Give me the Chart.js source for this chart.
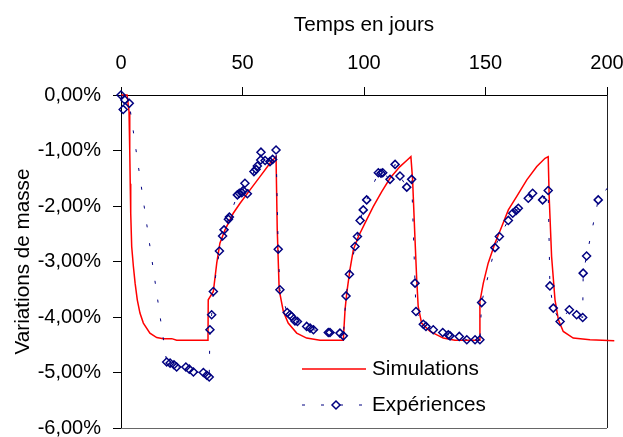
<!DOCTYPE html>
<html>
<head>
<meta charset="utf-8">
<script src="https://cdn.jsdelivr.net/npm/chart.js@4/dist/chart.umd.min.js"></script>
<style>
html,body{margin:0;padding:0;background:#fff;}
#wrap{width:623px;height:437px;}
</style>
</head>
<body>
<div id="wrap"><canvas id="c" width="623" height="437"></canvas></div>
<script>
// ---- Data ----
const xTitle = "Temps en jours";
const yTitle = "Variations de masse";
const seriesNames = ["Simulations", "Expériences"];

const simDays = [0, 2.5, 3.3, 3.6, 3.8, 4.0, 4.4, 5.1, 5.8, 6.7, 7.8, 9.2, 11.9, 14.7, 17.4, 20.9, 22.9, 35.8,
  35.9, 38.0, 39.4, 40.7, 42.8, 46.2, 49.0, 53.1, 57.2, 61.3, 63.8,
  64.3, 65.1, 66.8, 68.8, 72.3, 76.4, 81.9, 91.5,
  91.8, 92.2, 92.9, 94.2, 95.6, 97.7, 100.4, 103.8, 107.3, 110.7, 114.8, 117.8, 119.3,
  120.0, 121.0, 121.7, 122.3, 123.7, 127.2, 132.6, 137.4, 147.4,
  147.7, 149.1, 151.1, 153.9, 156.7, 159.4, 162.8, 167.0, 171.1, 174.5, 175.8,
  176.2, 177.2, 178.6, 180.0, 182.0, 186.1, 193.0, 203.0];
const simValues = [0, 0, -0.3, -1.0, -1.6, -2.13, -2.73, -3.09, -3.39, -3.69, -3.93, -4.11, -4.29, -4.37, -4.39, -4.39, -4.42, -4.42,
  -3.69, -3.54, -3.03, -2.67, -2.43, -2.13, -1.95, -1.71, -1.47, -1.23, -1.11,
  -2.43, -3.51, -3.90, -4.11, -4.29, -4.38, -4.42, -4.42,
  -4.17, -3.87, -3.57, -3.15, -2.79, -2.55, -2.31, -2.01, -1.74, -1.50, -1.29, -1.17, -1.11,
  -1.53, -2.61, -3.33, -3.81, -4.11, -4.26, -4.38, -4.42, -4.42,
  -3.72, -3.39, -3.03, -2.67, -2.37, -2.07, -1.83, -1.53, -1.29, -1.14, -1.11,
  -1.83, -2.91, -3.69, -4.05, -4.26, -4.38, -4.41, -4.43];

const expDays = [0, 0.9, 1.6, 3.4,
  18.8, 20.2, 21.8, 22.9, 26.7, 28.1, 29.8, 33.9, 35.3, 36.3,
  36.6, 37.3, 38.0, 40.5, 41.8, 42.4, 44.2, 44.6, 47.9, 48.7, 49.7, 50.3, 51.0, 52.0, 54.7, 55.6, 56.1, 57.5, 57.6, 59.3, 61.3, 62.4, 63.8,
  64.7, 65.4, 68.4, 69.5, 70.2, 71.6, 72.6, 76.4, 77.8, 79.2, 85.3, 86.0, 90.1, 91.5,
  92.6, 94.0, 96.3, 97.3, 98.4, 99.7, 101.1, 105.9, 107.0, 107.7, 110.7, 112.8, 114.8, 117.6, 119.6,
  121.0, 121.4, 124.4, 125.5, 128.5, 132.4, 134.7, 135.4, 139.2, 142.3, 145.7, 147.7,
  148.4, 153.9, 155.7, 159.4, 161.2, 162.6, 163.5, 167.6, 169.4, 173.5, 175.8,
  176.5, 177.9, 180.7, 184.5, 187.5, 190.0, 190.2, 191.6, 196.4, 203.3];
const expValues = [0, -0.26, -0.09, -0.15,
  -4.81, -4.83, -4.86, -4.90, -4.90, -4.94, -4.99, -5.00, -5.05, -5.08,
  -4.23, -3.96, -3.54, -2.81, -2.54, -2.43, -2.24, -2.20, -1.80, -1.77, -1.76, -1.72, -1.59, -1.78, -1.38, -1.34, -1.28, -1.17, -1.03, -1.18, -1.20, -1.16, -0.99,
  -2.78, -3.51, -3.92, -3.96, -3.99, -4.07, -4.08, -4.17, -4.20, -4.23, -4.28, -4.28, -4.29, -4.34,
  -3.62, -3.23, -2.73, -2.55, -2.26, -2.07, -1.89, -1.40, -1.41, -1.40, -1.52, -1.25, -1.46, -1.66, -1.52,
  -3.39, -3.90, -4.13, -4.17, -4.23, -4.28, -4.32, -4.34, -4.35, -4.41, -4.41, -4.41,
  -3.74, -2.75, -2.55, -2.26, -2.13, -2.08, -2.04, -1.86, -1.77, -1.89, -1.72,
  -3.44, -3.84, -4.08, -3.87, -3.96, -4.01, -3.21, -2.90, -1.89, -1.50];

const xTicks = [0, 50, 100, 150, 200];
const yTicks = [0, -1, -2, -3, -4, -5, -6];

// ---- Chart ----
const FONT = '"Liberation Sans", Arial, sans-serif';
const RED = '#ff0000';
const NAVY = '#000080';
const TICK_SIZE = 20;
const TITLE_SIZE = 20.7;

const toPts = (xs, ys) => xs.map((x, i) => ({ x: x, y: ys[i] }));
const fmtPct = v => (Math.abs(v) < 1e-9 ? 0 : v).toFixed(2).replace('.', ',') + '%';

const frame = {
  id: 'frame',
  beforeDatasetsDraw(chart) {
    const a = chart.chartArea, ctx = chart.ctx;
    ctx.save();
    ctx.lineWidth = 1;
    ctx.strokeStyle = '#222';
    ctx.beginPath();
    ctx.moveTo(Math.round(a.right) + 0.5, a.top);
    ctx.lineTo(Math.round(a.right) + 0.5, a.bottom);
    ctx.stroke();
    ctx.strokeStyle = '#666';
    ctx.beginPath();
    ctx.moveTo(a.left, Math.round(a.bottom) + 0.5);
    ctx.lineTo(a.right, Math.round(a.bottom) + 0.5);
    ctx.stroke();
    ctx.restore();
  }
};

const legendBox = {
  id: 'legendBox',
  afterDraw(chart) {
    const a = chart.chartArea, ctx = chart.ctx;
    const x0 = a.left + 181, x1 = a.left + 245, tx = a.left + 251;
    const y1 = a.top + 274, y2 = a.top + 310;
    ctx.save();
    ctx.strokeStyle = RED; ctx.lineWidth = 1.5;
    ctx.beginPath(); ctx.moveTo(x0, y1); ctx.lineTo(x1, y1); ctx.stroke();
    ctx.strokeStyle = NAVY; ctx.lineWidth = 1;
    ctx.setLineDash([3, 16]);
    ctx.beginPath(); ctx.moveTo(x0, y2); ctx.lineTo(x1, y2); ctx.stroke();
    ctx.setLineDash([]);
    const cx = (x0 + x1) / 2 + 2, r = 4;
    ctx.fillStyle = '#fff';
    ctx.lineWidth = 1.5;
    ctx.beginPath();
    ctx.moveTo(cx, y2 - r); ctx.lineTo(cx + r, y2); ctx.lineTo(cx, y2 + r); ctx.lineTo(cx - r, y2); ctx.closePath();
    ctx.fill(); ctx.stroke();
    ctx.fillStyle = '#000';
    ctx.font = TITLE_SIZE + 'px ' + FONT;
    ctx.textBaseline = 'middle';
    ctx.textAlign = 'left';
    ctx.fillText(seriesNames[0], tx, y1);
    ctx.fillText(seriesNames[1], tx, y2);
    ctx.restore();
  }
};

new Chart(document.getElementById('c'), {
  type: 'scatter',
  data: {
    datasets: [
      {
        label: seriesNames[1],
        data: toPts(expDays, expValues),
        showLine: true,
        borderColor: NAVY,
        borderWidth: 1,
        borderDash: [3, 16],
        pointStyle: 'rectRot',
        pointRadius: ctx => (ctx.raw && ctx.raw.x > 200 ? 0 : 4),
        pointBorderColor: NAVY,
        pointBackgroundColor: 'rgba(255,255,255,0)',
        pointBorderWidth: 1.5,
        clip: 10
      },
      {
        label: seriesNames[0],
        data: toPts(simDays, simValues),
        showLine: true,
        borderColor: RED,
        borderWidth: 1.5,
        pointRadius: 0,
        tension: 0,
        clip: 10
      }
    ]
  },
  options: {
    responsive: false,
    animation: false,
    devicePixelRatio: 1,
    layout: { padding: { left: 0, right: 16, top: 0, bottom: 9 } },
    plugins: { legend: { display: false }, tooltip: { enabled: false } },
    scales: {
      x: {
        type: 'linear',
        position: 'top',
        min: 0, max: 200,
        afterFit: s => { s.height = 95; s.paddingLeft = 0; s.paddingRight = 0; },
        afterBuildTicks: s => { s.ticks = xTicks.map(v => ({ value: v })); },
        ticks: { font: { family: FONT, size: TICK_SIZE }, color: '#000', padding: 12, maxRotation: 0 },
        grid: { drawOnChartArea: false, tickLength: 8, color: '#000', lineWidth: 1 },
        border: { display: true, color: '#000', width: 1 },
        title: { display: true, text: xTitle, color: '#000', font: { family: FONT, size: TITLE_SIZE }, padding: { top: 13, bottom: 0 } }
      },
      y: {
        type: 'linear',
        min: -6, max: 0,
        afterFit: s => { s.width = 121; s.paddingTop = 0; s.paddingBottom = 0; },
        afterBuildTicks: s => { s.ticks = yTicks.map(v => ({ value: v })); },
        ticks: { font: { family: FONT, size: TICK_SIZE }, color: '#000', padding: 12, callback: v => fmtPct(v) },
        grid: { drawOnChartArea: false, tickLength: 8, color: '#000', lineWidth: 1 },
        border: { display: true, color: '#000', width: 1 },
        title: { display: true, text: yTitle, color: '#000', font: { family: FONT, size: TITLE_SIZE }, padding: { top: 11, bottom: 0 } }
      }
    }
  },
  plugins: [frame, legendBox]
});
</script>
</body>
</html>
